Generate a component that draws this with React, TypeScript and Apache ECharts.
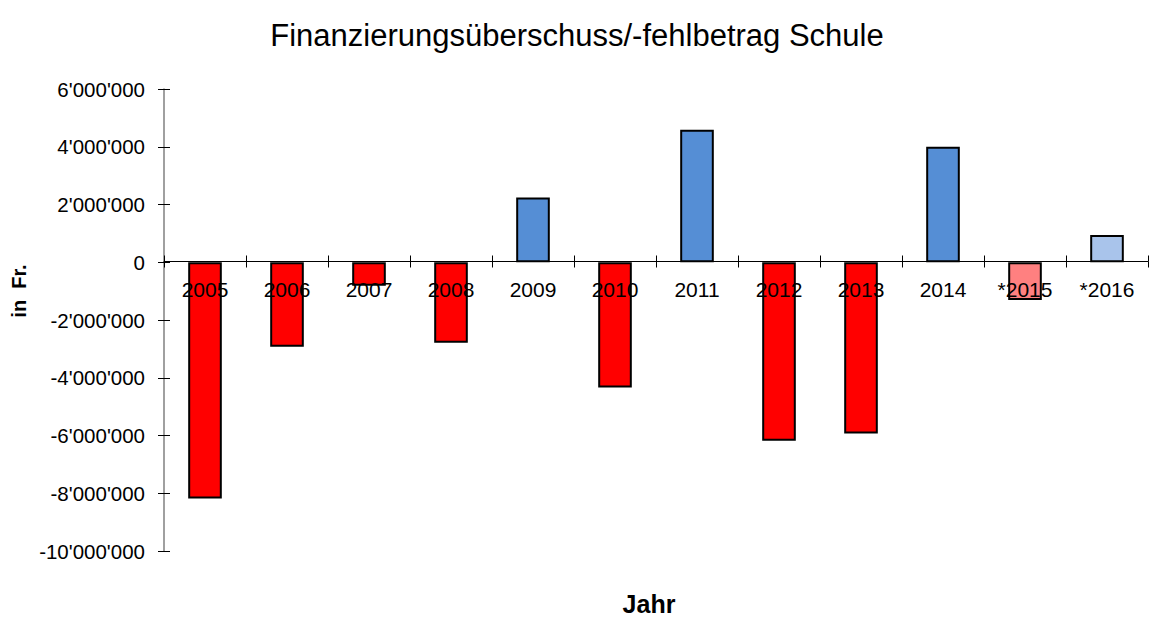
import React, { useEffect, useRef } from "react";
import * as echarts from "echarts";

const categories = ["2005", "2006", "2007", "2008", "2009", "2010", "2011", "2012", "2013", "2014", "*2015", "*2016"];
const values = [-8180000, -2930000, -810000, -2790000, 2240000, -4340000, 4590000, -6180000, -5930000, 4000000, -1310000, 940000];
const barColors = ["#FF0000", "#FF0000", "#FF0000", "#FF0000", "#558ED5", "#FF0000", "#558ED5", "#FF0000", "#FF0000", "#558ED5", "#FF8080", "#A9C4EB"];

const fmt = (v: number) => {
  const neg = v < 0;
  const s = Math.abs(v).toString().replace(/\B(?=(\d{3})+(?!\d))/g, "'");
  return (neg ? "-" : "") + s;
};

export default function App() {
  const ref = useRef<HTMLDivElement>(null);
  useEffect(() => {
    document.body.style.margin = "0";
    const chart = echarts.init(ref.current!, null, { renderer: "svg" });
    const font = "'Liberation Sans', Arial, sans-serif";
    const yBase = {
      type: "value",
      min: -10000000,
      max: 6000000,
      interval: 2000000,
      splitLine: { show: false },
    };
    chart.setOption({
      animation: false,
      backgroundColor: "#FFFFFF",
      textStyle: { fontFamily: font },
      title: {
        text: "Finanzierungsüberschuss/-fehlbetrag Schule",
        left: 572,
        textAlign: "center",
        top: 15,
        textStyle: { fontFamily: font, fontSize: 31, fontWeight: "normal", color: "#000" },
      },
      grid: { left: 164, right: 14, top: 89, bottom: 68, containLabel: false },
      xAxis: [
        {
          type: "category",
          data: categories,
          z: 5,
          offset: -289.5,
          axisLine: { onZero: false, lineStyle: { color: "#000", width: 1 } },
          axisTick: { show: true, length: 6, lineStyle: { color: "#000" } },
          axisLabel: { fontFamily: font, fontSize: 21, color: "#000", margin: 17 },
        },
        {
          type: "category",
          data: categories,
          position: "bottom",
          z: 5,
          offset: -289.5,
          axisLine: { show: false, onZero: false },
          axisTick: { show: true, inside: true, length: 6, lineStyle: { color: "#000" } },
          axisLabel: { show: false },
        },
      ],
      yAxis: [
        {
          ...yBase,
          axisLine: { show: true, lineStyle: { color: "#808080", width: 1.5 } },
          axisTick: { show: true, length: 6, lineStyle: { color: "#000" } },
          axisLabel: { fontFamily: font, fontSize: 20.5, color: "#000", margin: 19, formatter: (v: number) => fmt(v) },
        },
        {
          ...yBase,
          position: "left",
          axisLine: { show: false },
          axisTick: { show: true, inside: true, length: 6, lineStyle: { color: "#000" } },
          axisLabel: { show: false },
        },
      ],
      graphic: [
        {
          type: "text",
          x: 19,
          y: 291,
          rotation: Math.PI / 2,
          style: {
            text: "in  Fr.",
            font: `bold 20px ${font}`,
            fill: "#000",
            align: "center",
            verticalAlign: "middle",
          },
        },
        {
          type: "text",
          x: 649,
          y: 604,
          style: {
            text: "Jahr",
            font: `bold 25px ${font}`,
            fill: "#000",
            align: "center",
            verticalAlign: "middle",
          },
        },
      ],
      series: [
        {
          type: "bar",
          xAxisIndex: 0,
          yAxisIndex: 0,
          barWidth: "41%",
          data: values.map((v, i) => ({
            value: v,
            itemStyle: { color: barColors[i], borderColor: "#000", borderWidth: 2 },
          })),
        },
      ],
    });
    return () => chart.dispose();
  }, []);
  return <div ref={ref} style={{ width: 1162, height: 619 }} />;
}
